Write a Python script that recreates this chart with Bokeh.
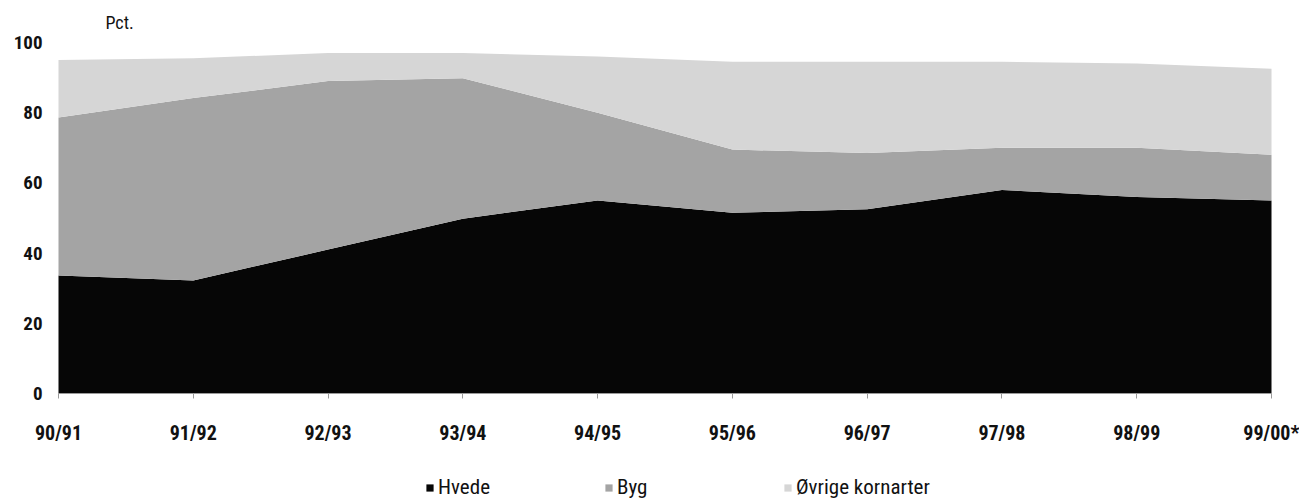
from bokeh.plotting import figure
from bokeh.models import ColumnDataSource, Legend, LegendItem, FixedTicker, Label
from bokeh.embed import file_html
from bokeh.resources import INLINE

seasons = ["90/91", "91/92", "92/93", "93/94", "94/95", "95/96", "96/97", "97/98", "98/99", "99/00*"]
hvede = [33.6, 32.2, 41.0, 49.8, 55.0, 51.5, 52.5, 58.0, 56.0, 55.0]
byg = [45.0, 52.0, 48.0, 40.0, 25.0, 18.0, 16.0, 12.0, 14.0, 13.0]
ovrige = [16.4, 11.3, 8.0, 7.2, 16.0, 25.0, 26.0, 24.5, 24.0, 24.5]
y_ticks = [0, 20, 40, 60, 80, 100]
names = ["Hvede", "Byg", "Øvrige kornarter"]
colors = ["#060606", "#a4a4a4", "#d6d6d6"]
stackers = ["hvede", "byg", "ovrige"]

FONT = "Roboto Condensed, Liberation Sans Narrow, Open Sans, sans-serif"

xs = list(range(len(seasons)))
src = ColumnDataSource(dict(x=xs, hvede=hvede, byg=byg, ovrige=ovrige))

# The frame fills the whole figure so that nothing is clipped; both axes are
# pinned inside it, the unit label sits above the plot, the legend under the x axis.
n = len(seasons) - 1
p = figure(width=1299, height=499, output_backend="svg", toolbar_location=None,
           x_range=(-0.4303, n + 0.2077), y_range=(-30.2, 111.97),
           min_border=0)
p.outline_line_color = None
p.grid.grid_line_color = None

rs = p.varea_stack(stackers, x="x", source=src, color=colors)

p.add_layout(Label(x=0.3487, y=105.84, text="Pct.", text_font=FONT, text_font_size="18px",
                   text_color="#111111", text_align="left", text_baseline="middle"))

p.xaxis.fixed_location = 0
p.xaxis.bounds = (0, n)
p.xaxis.ticker = FixedTicker(ticks=xs)
p.xaxis.major_label_overrides = {i: s for i, s in enumerate(seasons)}
p.xaxis.axis_line_color = "#9a9a9a"
p.xaxis.major_tick_line_color = "#9a9a9a"
p.xaxis.major_tick_out = 5
p.xaxis.major_tick_in = 0
p.xaxis.minor_tick_line_color = None
p.xaxis.major_label_standoff = 22
p.xaxis.major_label_text_font = FONT
p.xaxis.major_label_text_font_style = "bold"
p.xaxis.major_label_text_font_size = "20px"
p.xaxis.major_label_text_color = "#111111"

p.yaxis.fixed_location = 0
p.yaxis.bounds = (0, 100)
p.yaxis.ticker = FixedTicker(ticks=y_ticks)
p.yaxis.axis_line_color = None
p.yaxis.major_tick_line_color = None
p.yaxis.minor_tick_line_color = None
p.yaxis.major_tick_out = 0
p.yaxis.major_label_standoff = 16
p.yaxis.major_label_text_font = FONT
p.yaxis.major_label_text_font_style = "bold"
p.yaxis.major_label_text_font_size = "19px"
p.yaxis.major_label_text_color = "#111111"

legend = Legend(items=[LegendItem(label=nm, renderers=[r]) for nm, r in zip(names, rs)],
                orientation="horizontal", location=(425, 0),
                glyph_width=9, glyph_height=9, label_standoff=4, label_width=166, spacing=0,
                label_text_font=FONT, label_text_font_size="21px",
                label_text_color="#111111", padding=0, margin=0,
                background_fill_alpha=0, border_line_color=None)
p.add_layout(legend, "center")

open("out.html", "w").write(file_html(p, INLINE))
